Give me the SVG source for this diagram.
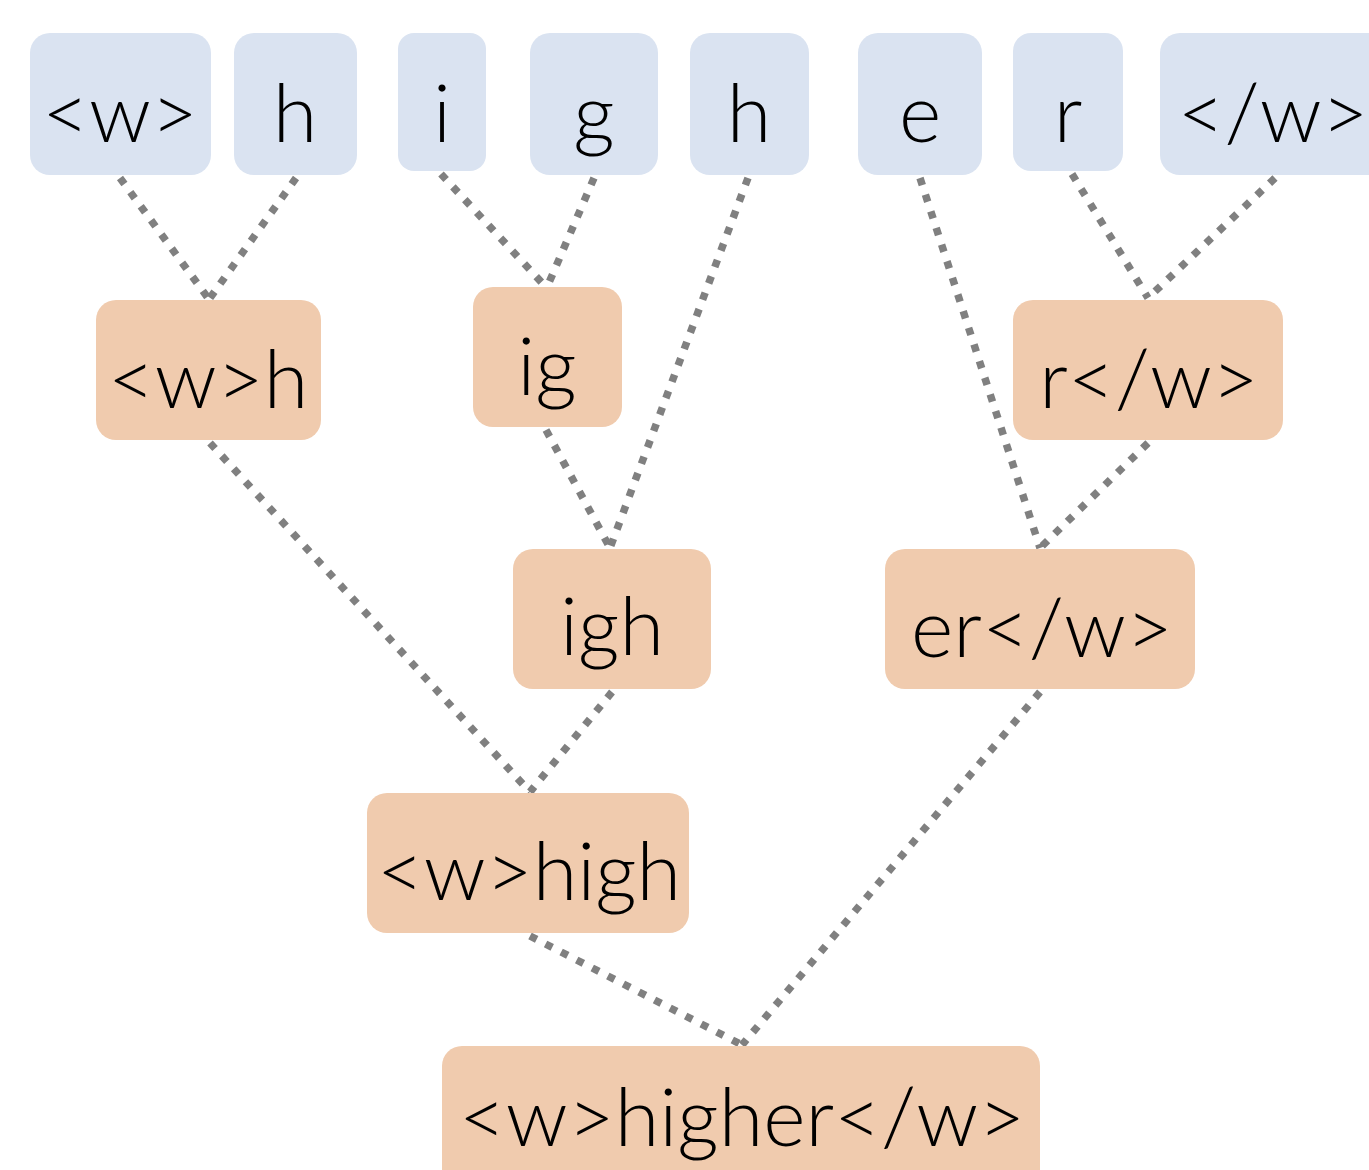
<svg xmlns="http://www.w3.org/2000/svg" width="1369" height="1170" viewBox="0 0 1369 1170">
<style>
.tok{fill:#DAE3F1}
.mrg{fill:#F0CBAE}
text{font-family:"Lato","Liberation Sans",sans-serif;font-weight:300;font-size:81px;fill:#000;text-anchor:middle}
.c line{stroke:#808080;stroke-width:7.5;stroke-dasharray:7.5 10;fill:none}
</style>
<rect width="1369" height="1170" fill="#fff"/>
<g class="c" id="connectors">
<line x1="120" y1="178" x2="208" y2="298"/>
<line x1="296" y1="178" x2="210" y2="298"/>
<line x1="441" y1="174" x2="544" y2="285"/>
<line x1="594" y1="178" x2="548" y2="285"/>
<line x1="748" y1="178" x2="610" y2="548"/>
<line x1="546" y1="430" x2="610" y2="548"/>
<line x1="920" y1="178" x2="1040" y2="548"/>
<line x1="1072" y1="174" x2="1148" y2="298"/>
<line x1="1275" y1="178" x2="1148" y2="298"/>
<line x1="1148" y1="443" x2="1040" y2="548"/>
<line x1="210" y1="443" x2="530" y2="792"/>
<line x1="612" y1="692" x2="530" y2="792"/>
<line x1="530" y1="936" x2="742" y2="1045"/>
<line x1="1040" y1="692" x2="742" y2="1045"/>
</g>
<g id="t_w"><rect class="tok" x="30" y="33" width="181" height="142" rx="20"/><text x="120" y="142">&lt;w&gt;</text></g>
<g id="t_h1"><rect class="tok" x="234" y="33" width="123" height="142" rx="20"/><text x="295" y="142">h</text></g>
<g id="t_i"><rect class="tok" x="398" y="33" width="88" height="138" rx="16"/><text x="442" y="142">i</text></g>
<g id="t_g"><rect class="tok" x="530" y="33" width="128" height="142" rx="20"/><text x="594" y="142">g</text></g>
<g id="t_h2"><rect class="tok" x="690" y="33" width="119" height="142" rx="20"/><text x="749" y="142">h</text></g>
<g id="t_e"><rect class="tok" x="858" y="33" width="124" height="142" rx="20"/><text x="920" y="142">e</text></g>
<g id="t_r"><rect class="tok" x="1013" y="33" width="110" height="138" rx="18"/><text x="1068" y="142">r</text></g>
<g id="t_ew"><rect class="tok" x="1160" y="33" width="230" height="142" rx="20"/><text x="1273" y="142">&lt;/w&gt;</text></g>
<g id="m_wh"><rect class="mrg" x="96" y="300" width="225" height="140" rx="20"/><text x="208" y="408">&lt;w&gt;h</text></g>
<g id="m_ig"><rect class="mrg" x="473" y="287" width="149" height="140" rx="20"/><text x="547" y="395">ig</text></g>
<g id="m_rw"><rect class="mrg" x="1013" y="300" width="270" height="140" rx="20"/><text x="1149" y="408">r&lt;/w&gt;</text></g>
<g id="m_igh"><rect class="mrg" x="513" y="549" width="198" height="140" rx="20"/><text x="612" y="655">igh</text></g>
<g id="m_erw"><rect class="mrg" x="885" y="549" width="310" height="140" rx="20"/><text x="1042" y="657">er&lt;/w&gt;</text></g>
<g id="m_whigh"><rect class="mrg" x="367" y="793" width="322" height="140" rx="20"/><text x="529" y="900">&lt;w&gt;high</text></g>
<g id="m_whigher"><rect class="mrg" x="442" y="1046" width="598" height="150" rx="20"/><text x="742" y="1146">&lt;w&gt;higher&lt;/w&gt;</text></g>
</svg>
